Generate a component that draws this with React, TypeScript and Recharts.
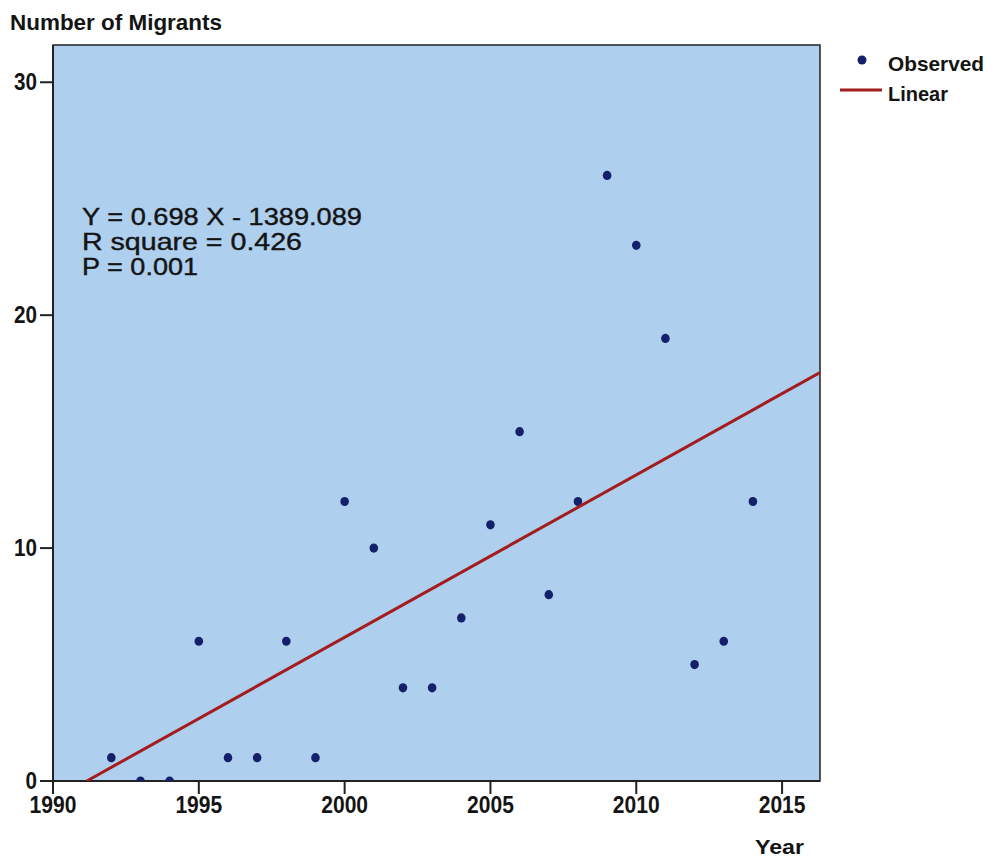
import React from "react";
import { ScatterChart, Scatter, XAxis, YAxis, ReferenceArea } from "recharts";

const years = [1992, 1993, 1994, 1995, 1996, 1997, 1998, 1999, 2000, 2001, 2002, 2003, 2004, 2005, 2006, 2007, 2008, 2009, 2010, 2011, 2012, 2013, 2014];
const migrants = [1, 0, 0, 6, 1, 1, 6, 1, 12, 10, 4, 4, 7, 11, 15, 8, 12, 26, 23, 19, 5, 6, 12];
const xTicks = [1990, 1995, 2000, 2005, 2010, 2015];
const yTicks = [0, 10, 20, 30];
const xDomain = [1990, 2016.3];
const yDomain = [0, 31.6];
const annotation = ["Y = 0.698 X - 1389.089", "R square = 0.426", "P = 0.001"];
const annotationWidths = [280, 220, 116];

const observed = years.map((y, i) => ({ year: y, count: migrants[i] }));

// least-squares fit from the observed data
const n = years.length;
const mx = years.reduce((a, b) => a + b, 0) / n;
const my = migrants.reduce((a, b) => a + b, 0) / n;
let sxy = 0, sxx = 0;
years.forEach((x, i) => { sxy += (x - mx) * (migrants[i] - my); sxx += (x - mx) ** 2; });
const slope = sxy / sxx;
const intercept = my - slope * mx;
const xStart = -intercept / slope;
const fitLine = [
  { year: xStart, count: 0 },
  { year: xDomain[1], count: slope * xDomain[1] + intercept },
];

const FONT = "'Liberation Sans', Arial, sans-serif";
const DOT = "#15206b";
const LINE = "#a31d1f";
const INK = "#141414";

const XTick = (p: any) => {
  const s = String(p.payload.value);
  return (
    <text x={p.x} y={p.y + 17} textAnchor="middle" fontFamily={FONT} fontWeight="bold" fontSize={23} fill={INK}
      textLength={s.length * 11.7} lengthAdjust="spacingAndGlyphs">{s}</text>
  );
};
const YTick = (p: any) => {
  const s = String(p.payload.value);
  return (
    <text x={p.x} y={p.y + 8} textAnchor="end" fontFamily={FONT} fontWeight="bold" fontSize={23} fill={INK}
      textLength={s.length * 11.5} lengthAdjust="spacingAndGlyphs">{s}</text>
  );
};

export default function App() {
  return (
    <div style={{ position: "relative", width: 978, height: 850 }}>
      <style>{"html,body{overflow:hidden}"}</style>
      <ScatterChart width={978} height={842} margin={{ top: 37, right: 166, bottom: 39, left: 5 }}>
        <ReferenceArea x1={xDomain[0]} x2={xDomain[1]} y1={yDomain[0]} y2={yDomain[1]} fill="#afcfee" fillOpacity={1} stroke="#222" strokeWidth={1.5} />
        <XAxis
          type="number"
          dataKey="year"
          domain={xDomain}
          ticks={xTicks}
          allowDataOverflow
          height={30}
          tickSize={13}
          stroke="#222"
          strokeWidth={2}
          tick={XTick}
          tickLine={{ stroke: "#222", strokeWidth: 2 }}
        />
        <YAxis
          type="number"
          dataKey="count"
          domain={yDomain}
          ticks={yTicks}
          allowDataOverflow
          width={40}
          tickSize={13}
          tickMargin={3}
          stroke="#222"
          strokeWidth={2}
          tick={YTick}
          tickLine={{ stroke: "#222", strokeWidth: 2 }}
        />
        <Scatter data={observed} fill={DOT} isAnimationActive={false} shape={(p: any) => <ellipse cx={p.cx} cy={p.cy} rx={4.3} ry={4.6} fill={DOT} />} />
        <Scatter data={fitLine} line={{ stroke: LINE, strokeWidth: 3 }} shape={() => null} isAnimationActive={false} />
      </ScatterChart>
      <svg width={978} height={850} style={{ position: "absolute", left: 0, top: 0, pointerEvents: "none" }}>
        <text x={2} y={22} fontFamily={FONT} fontWeight="bold" fontSize={22} fill={INK} textLength={212} lengthAdjust="spacingAndGlyphs">Number of Migrants</text>
        <text x={747} y={846} fontFamily={FONT} fontWeight="bold" fontSize={21} fill={INK} textLength={49} lengthAdjust="spacingAndGlyphs">Year</text>
        {annotation.map((t, i) => (
          <text key={t} x={74} y={217 + i * 25} fontFamily={FONT} fontSize={24} fill={INK} stroke={INK} strokeWidth={0.4}
            textLength={annotationWidths[i]} lengthAdjust="spacingAndGlyphs">{t}</text>
        ))}
        <circle cx={854} cy={52} r={4.5} fill={DOT} />
        <text x={880} y={63} fontFamily={FONT} fontWeight="bold" fontSize={21} fill={INK} textLength={96} lengthAdjust="spacingAndGlyphs">Observed</text>
        <line x1={832} y1={82} x2={874} y2={82} stroke={LINE} strokeWidth={3} />
        <text x={880} y={93} fontFamily={FONT} fontWeight="bold" fontSize={21} fill={INK} textLength={60} lengthAdjust="spacingAndGlyphs">Linear</text>
      </svg>
    </div>
  );
}
